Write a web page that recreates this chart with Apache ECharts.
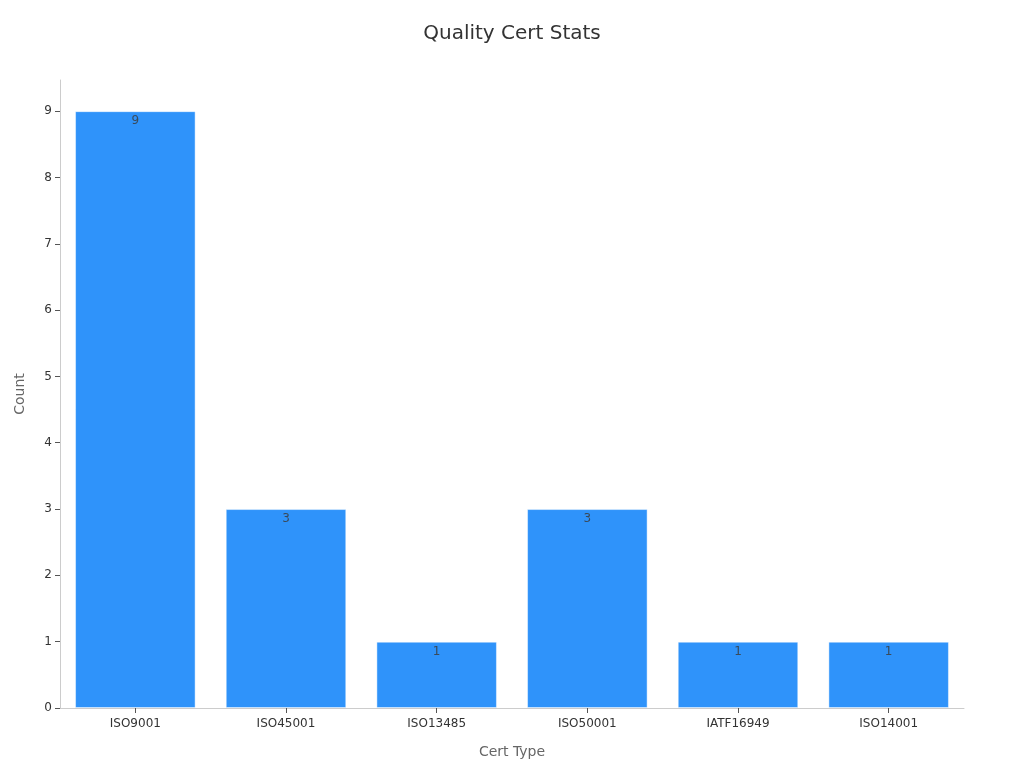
<!DOCTYPE html>
<html>
<head>
<meta charset="utf-8">
<script src="https://cdn.jsdelivr.net/npm/echarts@6/dist/echarts.min.js"></script>
<style>html,body{margin:0;padding:0;background:#fff}#c{width:1024px;height:768px}</style>
</head>
<body>
<div id="c"></div>
<script>
var categories = ['ISO9001', 'ISO45001', 'ISO13485', 'ISO50001', 'IATF16949', 'ISO14001'];
var counts = [9, 3, 1, 3, 1, 1];
var yTicks = [0, 1, 2, 3, 4, 5, 6, 7, 8, 9];

var chart = echarts.init(document.getElementById('c'), null, {renderer: 'canvas'});
var font = 'DejaVu Sans';
chart.setOption({
  backgroundColor: '#ffffff',
  animation: false,
  title: {
    text: 'Quality Cert Stats',
    left: 'center',
    top: 19,
    textStyle: {fontFamily: font, fontSize: 20, fontWeight: 'normal', color: '#333333'}
  },
  grid: {left: 60, right: 60, top: 80, bottom: 60, containLabel: false},
  xAxis: {
    type: 'category',
    data: categories,
    name: 'Cert Type',
    nameLocation: 'middle',
    nameGap: 37,
    nameTextStyle: {fontFamily: font, fontSize: 14, color: '#666666'},
    axisLine: {lineStyle: {color: '#cccccc'}},
    axisTick: {show: true, alignWithLabel: true, length: 5, lineStyle: {color: '#555555'}},
    axisLabel: {fontFamily: font, fontSize: 12, color: '#333333', margin: 10}
  },
  yAxis: {
    type: 'value',
    min: 0,
    max: 9.47,
    name: 'Count',
    nameLocation: 'middle',
    nameGap: 33,
    nameTextStyle: {fontFamily: font, fontSize: 14, color: '#666666'},
    axisLine: {show: true, lineStyle: {color: '#cccccc'}},
    axisTick: {show: true, length: 5, customValues: yTicks, lineStyle: {color: '#555555'}},
    axisLabel: {fontFamily: font, fontSize: 12, color: '#333333', margin: 8, customValues: yTicks},
    splitLine: {show: false}
  },
  series: [{
    type: 'bar',
    data: counts,
    barWidth: '80%',
    itemStyle: {color: '#2f93fa', borderColor: 'rgba(255,255,255,0.45)', borderWidth: 1},
    label: {show: true, position: 'insideTop', distance: 4, fontFamily: font, fontSize: 12, color: '#3a4a5a'}
  }]
});
</script>
</body>
</html>
